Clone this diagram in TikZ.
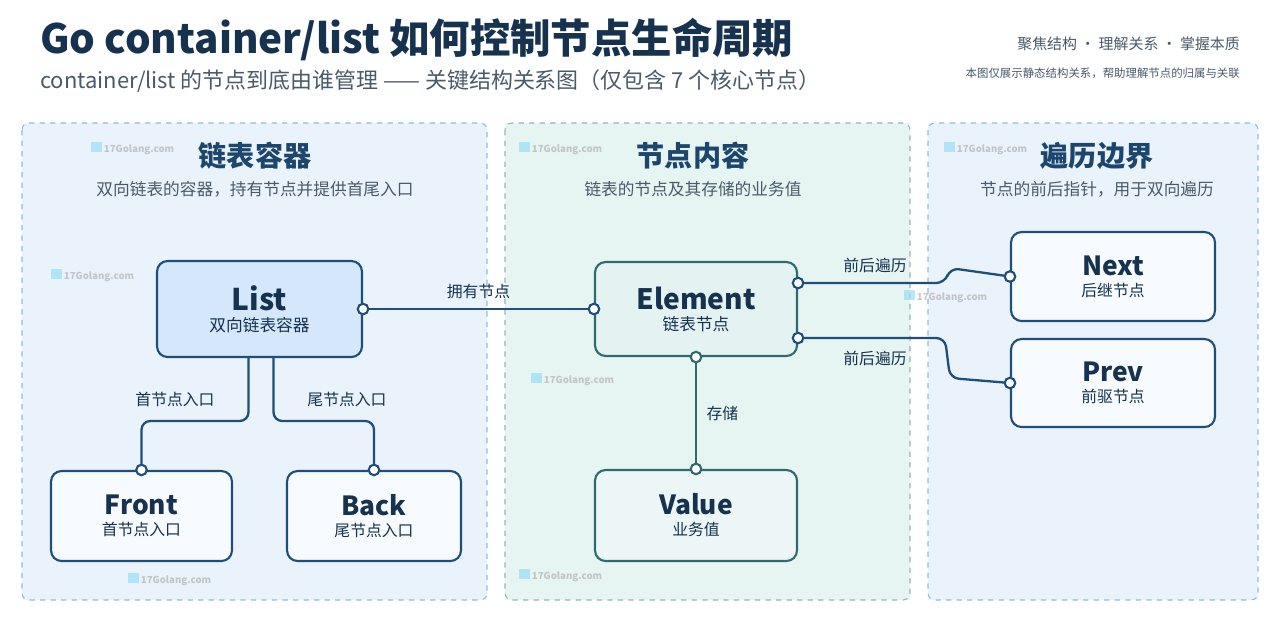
\documentclass[tikz,border=0pt]{standalone}
\usepackage{fontspec}
\setmainfont{Noto Sans CJK SC}
\usetikzlibrary{positioning}
\definecolor{navy}{HTML}{16324F}
\definecolor{linec}{HTML}{1F4E79}
\definecolor{tealc}{HTML}{2E6B70}
\definecolor{panelb}{HTML}{EAF3FC}
\definecolor{panelg}{HTML}{E6F5F1}
\definecolor{dashc}{HTML}{8DBFD6}
\definecolor{greyc}{HTML}{4A5A6A}
\definecolor{listc}{HTML}{D5E7FA}

\begin{document}
\begin{tikzpicture}[
    x=0.02cm, y=-0.02cm,
    font=\small
]
\tikzset{
    panel/.style = {draw=dashc, dashed, rounded corners=4pt, line width=0.6pt},
    boxb/.style = {draw=linec, line width=1.2pt, rounded corners=6pt, fill=listc, minimum width=4.1cm, minimum height=1.92cm, align=center, text=navy},
    boxg/.style = {draw=tealc, line width=1.2pt, rounded corners=6pt, fill=teal!10!white, minimum width=4.04cm, minimum height=1.88cm, align=center, text=navy},
    boxw/.style = {draw=linec, line width=1.2pt, rounded corners=6pt, fill=white!60!panelb, align=center, text=navy},
    link/.style = {draw=linec, line width=1.3pt, rounded corners=5pt},
    linkt/.style = {draw=tealc, line width=1.3pt},
    dot/.style = {circle, draw=linec, fill=white, line width=1.2pt, inner sep=0pt, minimum size=6pt},
    lbl/.style = {font=\fontsize{9}{10}\selectfont, text=navy},
    head/.style = {font=\fontsize{16}{18}\selectfont\bfseries, text=linec!90!black},
    sub/.style = {font=\fontsize{9.5}{11}\selectfont, text=greyc},
    wm/.style = {font=\fontsize{5.5}{6}\selectfont\bfseries, text=gray!60, opacity=0.7}
}
\useasboundingbox[fill=white] (0,0) rectangle (1280,640);
% header
\node[anchor=west, font=\fontsize{23}{26}\selectfont\bfseries, text=navy] (title) at (34,40) {Go container/list 如何控制节点生命周期};
\node[anchor=west, font=\fontsize{12.5}{14}\selectfont, text=greyc] (subtitle) at (34,81) {container/list 的节点到底由谁管理 —— 关键结构关系图（仅包含 7 个核心节点）};
\node[anchor=east, font=\fontsize{8.5}{10}\selectfont, text=greyc] (motto) at (1246,44) {聚焦结构 · 理解关系 · 掌握本质};
\node[anchor=east, font=\fontsize{6.5}{8}\selectfont, text=greyc] (note) at (1246,73) {本图仅展示静态结构关系，帮助理解节点的归属与关联};
% panels
\fill[panelb] (22,123) rectangle (487,600);
\fill[panelg] (505,123) rectangle (910,600);
\fill[panelb] (928,123) rectangle (1258,600);
\draw[panel] (22,123) rectangle (487,600);
\draw[panel, draw=tealc!50] (505,123) rectangle (910,600);
\draw[panel] (928,123) rectangle (1258,600);
\node[head] (h1) at (255,156) {链表容器};
\node[sub] (s1) at (255,189) {双向链表的容器，持有节点并提供首尾入口};
\node[head] (h2) at (693,156) {节点内容};
\node[sub] (s2) at (693,189) {链表的节点及其存储的业务值};
\node[head] (h3) at (1097,156) {遍历边界};
\node[sub] (s3) at (1097,189) {节点的前后指针，用于双向遍历};
% watermarks
\foreach \wx/\wy in {85/148, 45/275, 122/579, 513/148, 525/379, 513/575, 938/148, 898/296}
    \node[wm, anchor=west] at (\wx,\wy) {\textcolor{cyan!40}{\rule{6pt}{6pt}} 17Golang.com};
% nodes
\node[boxb] (list) at (259.5,309) {{\fontsize{17}{19}\selectfont\bfseries List}\\[1pt]{\fontsize{9.5}{11}\selectfont 双向链表容器}};
\node[boxw, minimum width=3.62cm, minimum height=1.8cm] (front) at (141.5,516) {{\fontsize{15}{17}\selectfont\bfseries Front}\\[1pt]{\fontsize{9}{11}\selectfont 首节点入口}};
\node[boxw, minimum width=3.48cm, minimum height=1.8cm] (back) at (374,516) {{\fontsize{15}{17}\selectfont\bfseries Back}\\[1pt]{\fontsize{9}{11}\selectfont 尾节点入口}};
\node[boxg] (element) at (696,309) {{\fontsize{16}{18}\selectfont\bfseries Element}\\[1pt]{\fontsize{9.5}{11}\selectfont 链表节点}};
\node[boxg, fill=teal!7!white, minimum height=1.82cm] (value) at (696,515.5) {{\fontsize{15}{17}\selectfont\bfseries Value}\\[1pt]{\fontsize{9}{11}\selectfont 业务值}};
\node[boxw, minimum width=4.08cm, minimum height=1.78cm] (next) at (1113,276.5) {{\fontsize{15}{17}\selectfont\bfseries Next}\\[1pt]{\fontsize{9}{11}\selectfont 后继节点}};
\node[boxw, minimum width=4.08cm, minimum height=1.76cm] (prev) at (1113,383) {{\fontsize{15}{17}\selectfont\bfseries Prev}\\[1pt]{\fontsize{9}{11}\selectfont 前驱节点}};
% connectors
\coordinate (lf) at ([xshift=-0.22cm]list.south);
\coordinate (lb) at ([xshift=0.28cm]list.south);
\draw[link] (lf) |- (front.north |- 0,421) -- (front.north);
\draw[link] (lb) |- (back.north |- 0,421) -- (back.north);
\node[dot] at (front.north) {};
\node[dot] at (back.north) {};
\node[lbl] at (175,399) {首节点入口};
\node[lbl] at (347,399) {尾节点入口};
\draw[link] (list.east) -- (element.west) node[lbl, midway, above=2pt] {拥有节点};
\node[dot] at (list.east) {};
\node[dot] at (element.west) {};
\draw[linkt] (element.south) -- (value.north) node[lbl, midway, right=2pt] {存储};
\node[dot, draw=tealc] at (element.south) {};
\node[dot, draw=tealc] at (value.north) {};
\coordinate (en) at ([yshift=0.52cm]element.east);
\coordinate (ep) at ([yshift=-0.58cm]element.east);
\draw[link] (en) -- (945,283) -- (950,268) -- (next.west);
\draw[link] (ep) -- (945,338) -- (950,378) -- (prev.west);
\node[dot] at (en) {};
\node[dot] at (ep) {};
\node[dot] at (next.west) {};
\node[dot] at (prev.west) {};
\node[lbl] at (875,265) {前后遍历};
\node[lbl] at (875,358) {前后遍历};
\end{tikzpicture}
\end{document}
